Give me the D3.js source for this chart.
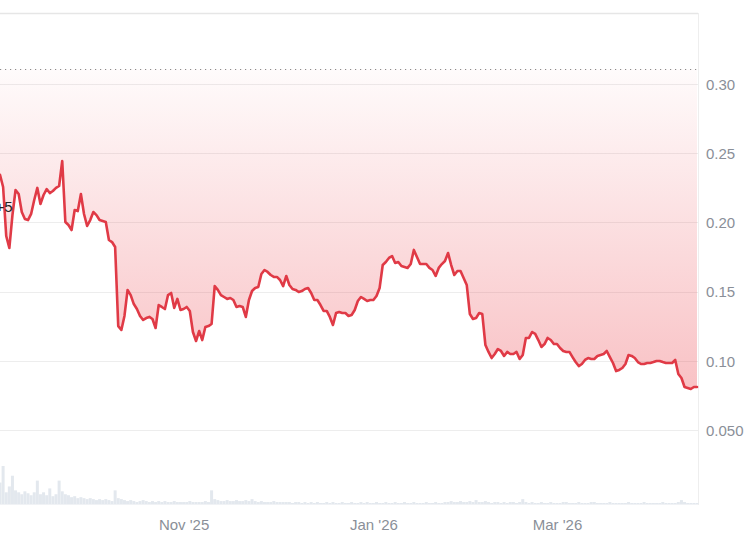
<!DOCTYPE html>
<html>
<head>
<meta charset="utf-8">
<script src="https://cdn.jsdelivr.net/npm/d3@7"></script>
<style>
  html, body { margin: 0; padding: 0; background: #ffffff; }
  svg { display: block; font-family: "Liberation Sans", Arial, sans-serif; }
</style>
</head>
<body>
<svg id="chart" width="750" height="536"></svg>
<script>
// ---- data ----
const startDate = "2025-09-03";
const endDate = "2026-04-15";
const prices = [
  0.2343, 0.2256, 0.1902, 0.1815, 0.2053, 0.2234, 0.2205, 0.2075, 0.2025, 0.2017,
  0.2061, 0.2162, 0.2249, 0.2133, 0.2198, 0.2241, 0.2212, 0.2227, 0.2249, 0.2263,
  0.2444, 0.2003, 0.1981, 0.1945, 0.2090, 0.2082, 0.2205, 0.2061, 0.1974, 0.2017,
  0.2075, 0.2053, 0.2017, 0.2010, 0.2003, 0.1873, 0.1858, 0.1822, 0.1251, 0.1223,
  0.1324, 0.1512, 0.1475, 0.1410, 0.1374, 0.1324, 0.1295, 0.1309, 0.1317, 0.1302,
  0.1237, 0.1403, 0.1389, 0.1374, 0.1475, 0.1490, 0.1382, 0.1447, 0.1367, 0.1374,
  0.1389, 0.1360, 0.1208, 0.1143, 0.1215, 0.1150, 0.1244, 0.1251, 0.1266, 0.1540,
  0.1512, 0.1475, 0.1461, 0.1447, 0.1454, 0.1439, 0.1389, 0.1396, 0.1389, 0.1317,
  0.1439, 0.1504, 0.1526, 0.1533, 0.1627, 0.1656, 0.1642, 0.1620, 0.1606, 0.1606,
  0.1584, 0.1540, 0.1613, 0.1548, 0.1519, 0.1512, 0.1497, 0.1504, 0.1519, 0.1526,
  0.1490, 0.1439, 0.1439, 0.1403, 0.1360, 0.1360, 0.1317, 0.1259, 0.1345, 0.1353,
  0.1345, 0.1345, 0.1324, 0.1331, 0.1367, 0.1432, 0.1461, 0.1447, 0.1432, 0.1439,
  0.1439, 0.1468, 0.1526, 0.1692, 0.1714, 0.1743, 0.1757, 0.1707, 0.1714, 0.1685,
  0.1678, 0.1671, 0.1699, 0.1801, 0.1750, 0.1699, 0.1699, 0.1699, 0.1671, 0.1656,
  0.1613, 0.1671, 0.1699, 0.1721, 0.1779, 0.1692, 0.1620, 0.1649, 0.1649, 0.1598,
  0.1548, 0.1338, 0.1302, 0.1309, 0.1345, 0.1338, 0.1114, 0.1064, 0.1020, 0.1049,
  0.1085, 0.1071, 0.1035, 0.1064, 0.1049, 0.1049, 0.1064, 0.1013, 0.1042, 0.1165,
  0.1165, 0.1208, 0.1194, 0.1150, 0.1100, 0.1121, 0.1165, 0.1150, 0.1121, 0.1121,
  0.1092, 0.1071, 0.1064, 0.1064, 0.1027, 0.0991, 0.0962, 0.0977, 0.1006, 0.1020,
  0.1013, 0.1013, 0.1035, 0.1042, 0.1049, 0.1071, 0.1027, 0.0984, 0.0926, 0.0934,
  0.0948, 0.0977, 0.1042, 0.1035, 0.1020, 0.0991, 0.0977, 0.0977, 0.0984, 0.0984,
  0.0991, 0.0999, 0.0999, 0.0991, 0.0984, 0.0984, 0.0984, 0.1006, 0.0905, 0.0876,
  0.0811, 0.0804, 0.0796, 0.0811, 0.0811
];
const volumes = [
  22, 39, 12, 18, 29, 14, 12, 10, 13, 11, 9, 12, 24, 10, 12, 9, 16, 8, 10, 24,
  13, 10, 9, 7, 8, 6, 7, 6, 5, 6, 5, 4, 5, 4, 5, 4, 3, 14, 6, 5,
  4, 3, 4, 3, 2, 3, 4, 3, 2, 3, 2, 3, 2, 3, 2, 2, 3, 2, 2, 2,
  2, 3, 2, 2, 2, 2, 3, 2, 14, 5, 4, 3, 3, 4, 3, 3, 4, 3, 3, 4,
  3, 5, 3, 2, 3, 2, 2, 2, 3, 2, 2, 2, 2, 2, 1, 2, 2, 1, 2, 1,
  2, 1, 2, 1, 1, 2, 1, 2, 1, 1, 2, 1, 1, 2, 1, 1, 2, 1, 2, 1,
  1, 2, 1, 1, 2, 1, 1, 2, 1, 1, 2, 1, 1, 2, 1, 1, 1, 2, 1, 1,
  2, 1, 1, 2, 2, 3, 2, 2, 3, 2, 2, 3, 2, 4, 2, 2, 3, 2, 1, 2,
  2, 1, 2, 1, 2, 2, 1, 2, 5, 2, 1, 2, 1, 1, 2, 1, 1, 2, 1, 1,
  1, 2, 2, 1, 1, 1, 2, 1, 1, 1, 2, 2, 1, 1, 1, 1, 2, 1, 1, 1,
  1, 1, 2, 1, 1, 1, 1, 2, 1, 1, 1, 1, 1, 2, 1, 1, 1, 1, 2, 4,
  2, 1, 1, 1, 1
];
const baselinePrice = 0.3106;
const yTickValues = [0.05, 0.10, 0.15, 0.20, 0.25, 0.30];
const yTickLabels = ["0.050", "0.10", "0.15", "0.20", "0.25", "0.30"];
const xTickDates = ["2025-11-01", "2026-01-01", "2026-03-01"];
const xTickLabels = ["Nov '25", "Jan '26", "Mar '26"];

// ---- setup ----
const parse = d3.utcParse("%Y-%m-%d");
const dates = d3.utcDay.range(parse(startDate), d3.utcDay.offset(parse(endDate), 1));
const data = prices.map((p, i) => ({ date: dates[i], price: p, vol: volumes[i] || 0 }));

const svg = d3.select("#chart");
const plotLeft = 0, plotRight = 698, plotTop = 13, plotBottom = 505;

const x = d3.scaleUtc().domain([parse(startDate), parse(endDate)]).range([0, 697]);
const y = d3.scaleLinear().domain([0, 0.30]).range([499.2, 84]);
const yv = d3.scaleLinear().domain([0, 40]).range([504, 465]);

// gradient
const defs = svg.append("defs");
const grad = defs.append("linearGradient")
  .attr("id", "redfill").attr("gradientUnits", "userSpaceOnUse")
  .attr("x1", 0).attr("x2", 0).attr("y1", y(baselinePrice)).attr("y2", 400);
grad.append("stop").attr("offset", 0).attr("stop-color", "#ea3943").attr("stop-opacity", 0.02);
grad.append("stop").attr("offset", 1).attr("stop-color", "#ea3943").attr("stop-opacity", 0.32);

// frame
svg.append("line").attr("x1", plotLeft).attr("x2", plotRight).attr("y1", plotTop + 0.5).attr("y2", plotTop + 0.5)
  .attr("stroke", "#e6e6e6").attr("stroke-width", 1.5);
svg.append("line").attr("x1", plotRight + 0.5).attr("x2", plotRight + 0.5).attr("y1", plotTop).attr("y2", plotBottom)
  .attr("stroke", "#eeeeee").attr("stroke-width", 1);

// grid
svg.append("g").selectAll("line").data(yTickValues).join("line")
  .attr("x1", plotLeft).attr("x2", plotRight)
  .attr("y1", d => Math.round(y(d)) + 0.5).attr("y2", d => Math.round(y(d)) + 0.5)
  .attr("stroke", "#ededed").attr("stroke-width", 1);

// volume bars
svg.append("g").selectAll("rect").data(data).join("rect")
  .attr("x", d => x(d.date) - 1.5).attr("width", 3)
  .attr("y", d => yv(d.vol)).attr("height", d => yv(0) - yv(d.vol))
  .attr("fill", "#e3e8ee");
svg.append("line").attr("x1", plotLeft).attr("x2", plotRight).attr("y1", 504.5).attr("y2", 504.5)
  .attr("stroke", "#f0f2f5").attr("stroke-width", 1);

// area between baseline and price line
const area = d3.area().x(d => x(d.date)).y0(y(baselinePrice)).y1(d => y(d.price));
svg.append("path").datum(data).attr("d", area).attr("fill", "url(#redfill)");

// baseline dotted
svg.append("line").attr("x1", plotLeft).attr("x2", plotRight - 1)
  .attr("y1", Math.round(y(baselinePrice)) + 0.5).attr("y2", Math.round(y(baselinePrice)) + 0.5)
  .attr("stroke", "#8c8c8c").attr("stroke-width", 1.2).attr("stroke-dasharray", "1.2,3.8");

// price line
const line = d3.line().x(d => x(d.date)).y(d => y(d.price));
svg.append("path").datum(data).attr("d", line)
  .attr("fill", "none").attr("stroke", "#e03a46").attr("stroke-width", 2.6)
  .attr("stroke-linejoin", "round").attr("stroke-linecap", "round");

// y axis labels (right)
const yAxis = d3.axisRight(y).tickValues(yTickValues)
  .tickFormat((d, i) => yTickLabels[i]).tickSize(0).tickPadding(0);
const yg = svg.append("g").attr("transform", `translate(706,0)`).call(yAxis);
yg.select(".domain").remove();
yg.selectAll("text").attr("font-size", 15).attr("fill", "#8a8f98")
  .attr("font-family", "Liberation Sans, Arial, sans-serif").attr("dy", "0.35em");

// x axis labels
const xTicks = xTickDates.map(parse);
const xAxis = d3.axisBottom(x).tickValues(xTicks)
  .tickFormat((d, i) => xTickLabels[i]).tickSize(0).tickPadding(0);
const xg = svg.append("g").attr("transform", `translate(0,519)`).call(xAxis);
xg.select(".domain").remove();
xg.selectAll("text").attr("font-size", 15).attr("fill", "#8a8f98")
  .attr("font-family", "Liberation Sans, Arial, sans-serif").attr("dy", "0.71em");

// cut-off label on the left
svg.append("text").attr("x", 12.5).attr("y", 212).attr("text-anchor", "end")
  .attr("font-size", 15).attr("fill", "#222").text("+5");
</script>
</body>
</html>
